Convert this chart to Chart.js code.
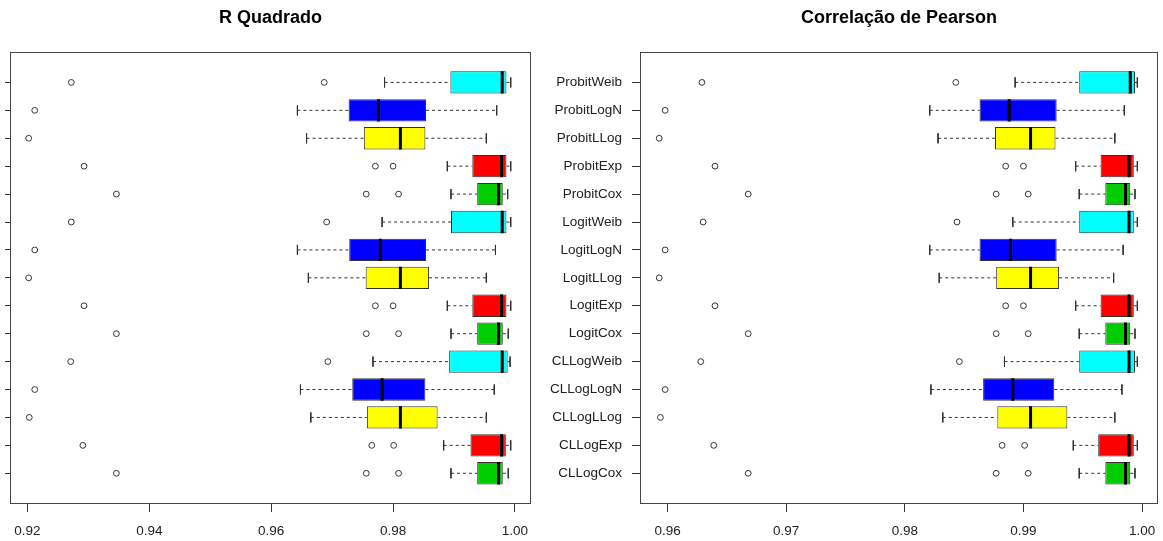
<!DOCTYPE html>
<html><head><meta charset="utf-8">
<script src="https://cdn.jsdelivr.net/npm/chart.js@4/dist/chart.umd.min.js"></script>
<style>
html,body{margin:0;padding:0;background:#fff;}
#wrap{position:relative;width:1163px;height:541px;background:#fff;overflow:hidden;}
#c1{position:absolute;left:0;top:0;}
#c2{position:absolute;left:540px;top:0;}
</style></head><body>
<div id="wrap"><canvas id="c1" width="540" height="541"></canvas><canvas id="c2" width="623" height="541"></canvas></div>
<script>
// ---- categories (top to bottom) ----
const LABELS = ['ProbitWeib','ProbitLogN','ProbitLLog','ProbitExp','ProbitCox',
                'LogitWeib','LogitLogN','LogitLLog','LogitExp','LogitCox',
                'CLLogWeib','CLLogLogN','CLLogLLog','CLLogExp','CLLogCox'];
const BOX_COLORS = ['#00FFFF','#0000FF','#FFFF00','#FF0000','#00CD00',
                    '#00FFFF','#0000FF','#FFFF00','#FF0000','#00CD00',
                    '#00FFFF','#0000FF','#FFFF00','#FF0000','#00CD00'];

// ---- R Quadrado ----
const R2_LOW  = [0.9786,0.9643,0.9658,0.9889,0.9895,0.9782,0.9643,0.9661,0.9889,0.9895,0.9767,0.9648,0.9665,0.9883,0.9895];
const R2_Q1   = [0.9894,0.9727,0.9752,0.9930,0.9938,0.9895,0.9728,0.9755,0.9930,0.9938,0.9892,0.9733,0.9757,0.9927,0.9938];
const R2_MED  = [0.9979,0.9776,0.9812,0.9978,0.9973,0.9979,0.9779,0.9812,0.9978,0.9973,0.9979,0.9782,0.9812,0.9978,0.9973];
const R2_Q3   = [0.9986,0.9854,0.9853,0.9986,0.9980,0.9986,0.9854,0.9859,0.9986,0.9980,0.9988,0.9853,0.9873,0.9985,0.9980];
const R2_HIGH = [0.9993,0.9970,0.9953,0.9993,0.9988,0.9993,0.9968,0.9953,0.9993,0.9989,0.9992,0.9966,0.9953,0.9993,0.9989];
const R2_OUT  = [[0.9272,0.9687],[0.9212],[0.9202],[0.9293,0.9771,0.9800],[0.9346,0.9756,0.9809],
                 [0.9272,0.9691],[0.9212],[0.9202],[0.9293,0.9771,0.9800],[0.9346,0.9756,0.9809],
                 [0.9271,0.9693],[0.9212],[0.9203],[0.9291,0.9765,0.9801],[0.9346,0.9756,0.9809]];
const R2_TICKS = [0.92,0.94,0.96,0.98,1.00];
const R2_AXIS = [0.91714, 1.00263];

// ---- Correlação de Pearson ----
const PE_LOW  = [0.9893,0.9821,0.9828,0.9944,0.9947,0.9891,0.9821,0.9829,0.9944,0.9947,0.9884,0.9822,0.9832,0.9942,0.9947];
const PE_Q1   = [0.9947,0.9863,0.9876,0.9965,0.9969,0.9947,0.9863,0.9877,0.9965,0.9969,0.9947,0.9866,0.9878,0.9963,0.9969];
const PE_MED  = [0.9990,0.9888,0.9906,0.9989,0.9986,0.9989,0.9889,0.9906,0.9989,0.9986,0.9989,0.9891,0.9906,0.9989,0.9986];
const PE_Q3   = [0.9994,0.9928,0.9927,0.9993,0.9990,0.9993,0.9928,0.9930,0.9993,0.9990,0.9994,0.9926,0.9937,0.9993,0.9990];
const PE_HIGH = [0.9996,0.9985,0.9977,0.9996,0.9994,0.9996,0.9984,0.9976,0.9996,0.9994,0.9996,0.9983,0.9977,0.9996,0.9994];
const PE_OUT  = [[0.9629,0.9843],[0.9598],[0.9593],[0.9640,0.9885,0.9900],[0.9668,0.9877,0.9904],
                 [0.9630,0.9844],[0.9598],[0.9593],[0.9640,0.9885,0.9900],[0.9668,0.9877,0.9904],
                 [0.9628,0.9846],[0.9598],[0.9594],[0.9639,0.9882,0.9901],[0.9668,0.9877,0.9904]];
const PE_TICKS = [0.96,0.97,0.98,0.99,1.00];
const PE_AXIS = [0.95768, 1.00134];

const FONT = "'Liberation Sans', Arial, sans-serif";
const INK = '#333333';

const framePlugin = {
  id: 'frame',
  afterDatasetsDraw(chart) {
    const {ctx, chartArea: a} = chart;
    ctx.save();
    ctx.strokeStyle = '#444444';
    ctx.lineWidth = 1;
    ctx.strokeRect(Math.round(a.left) + 0.5, Math.round(a.top) + 0.5,
                   Math.round(a.right - a.left) - 1, Math.round(a.bottom - a.top) - 1);
    ctx.restore();
  }
};

function makeBoxChart(canvas, o) {
  const n = LABELS.length;
  const gap = (y) => ({x: null, y: y});
  const whisk = [], staple = [], med = [], boxes = [], outs = [];
  for (let i = 0; i < n; i++) {
    const y = i + 1;
    whisk.push({x: o.low[i], y}, {x: o.q1[i], y}, gap(y), {x: o.q3[i], y}, {x: o.high[i], y}, gap(y));
    staple.push({x: o.low[i], y: y - 0.18}, {x: o.low[i], y: y + 0.18}, gap(y),
                {x: o.high[i], y: y - 0.18}, {x: o.high[i], y: y + 0.18}, gap(y));
    med.push({x: o.med[i], y: y - 0.4}, {x: o.med[i], y: y + 0.4}, gap(y));
    boxes.push({y, x: [o.q1[i], o.q3[i]]});
    o.out[i].forEach(v => outs.push({x: v, y}));
  }
  return new Chart(canvas, {
    type: 'bar',
    data: {
      datasets: [
        {type: 'line', data: whisk, borderColor: INK, borderWidth: 1, borderDash: [3, 3],
         pointRadius: 0, spanGaps: false, fill: false, order: 4},
        {type: 'line', data: staple, borderColor: INK, borderWidth: 1,
         pointRadius: 0, spanGaps: false, fill: false, order: 3},
        {type: 'bar', indexAxis: 'y', data: boxes, backgroundColor: BOX_COLORS,
         borderColor: INK, borderWidth: 1, borderSkipped: false,
         barPercentage: 0.8, categoryPercentage: 1, grouped: false, order: 2},
        {type: 'line', data: med, borderColor: '#000000', borderWidth: 3,
         pointRadius: 0, spanGaps: false, fill: false, order: 1},
        {type: 'scatter', data: outs, pointStyle: 'circle', pointRadius: 2.9,
         borderColor: INK, borderWidth: 1, backgroundColor: 'rgba(0,0,0,0)', order: 0}
      ]
    },
    options: {
      responsive: false, animation: false, events: [],
      layout: {padding: {left: 0, right: o.padRight, top: 0, bottom: 0}},
      plugins: {
        legend: {display: false}, tooltip: {enabled: false},
        title: {display: true, text: o.title, fullSize: false, color: '#000000',
                font: {family: FONT, size: 18, weight: 'bold'},
                padding: {top: 7, bottom: 23.1}}
      },
      scales: {
        x: {type: 'linear', position: 'bottom', min: o.axis[0], max: o.axis[1], offset: false,
            afterBuildTicks: s => { s.ticks = o.ticks.map(v => ({value: v})); },
            afterFit: s => { s.height = 37; s.paddingLeft = 0; s.paddingRight = 0; },
            ticks: {callback: (v, i) => o.ticks[i].toFixed(2), autoSkip: false, maxRotation: 0,
                    font: {family: FONT, size: 13.5}, color: '#222222', padding: 11},
            grid: {offset: false, drawOnChartArea: false, drawTicks: true, tickLength: 8, color: INK},
            border: {display: false}},
        y: {type: 'linear', position: 'left', min: -0.1, max: 16.1, reverse: true, offset: false,
            afterBuildTicks: s => { s.ticks = LABELS.map((_, i) => ({value: i + 1})); },
            afterFit: s => { s.width = o.yWidth; s.paddingTop = 0; s.paddingBottom = 0; },
            ticks: {display: o.showLabels, callback: (v, i) => LABELS[i], autoSkip: false,
                    font: {family: FONT, size: 13.5}, color: '#222222', padding: 10},
            grid: {offset: false, drawOnChartArea: false, drawTicks: true, tickLength: o.yTick, color: INK},
            border: {display: false}}
      }
    },
    plugins: [framePlugin]
  });
}

makeBoxChart(document.getElementById('c1'), {
  title: 'R Quadrado', low: R2_LOW, q1: R2_Q1, med: R2_MED, q3: R2_Q3, high: R2_HIGH, out: R2_OUT,
  ticks: R2_TICKS, axis: R2_AXIS, padRight: 9, yWidth: 10, yTick: 5, showLabels: false
});
makeBoxChart(document.getElementById('c2'), {
  title: 'Correlação de Pearson', low: PE_LOW, q1: PE_Q1, med: PE_MED, q3: PE_Q3, high: PE_HIGH, out: PE_OUT,
  ticks: PE_TICKS, axis: PE_AXIS, padRight: 3, yWidth: 100, yTick: 8, showLabels: true
});
</script>
</body></html>
